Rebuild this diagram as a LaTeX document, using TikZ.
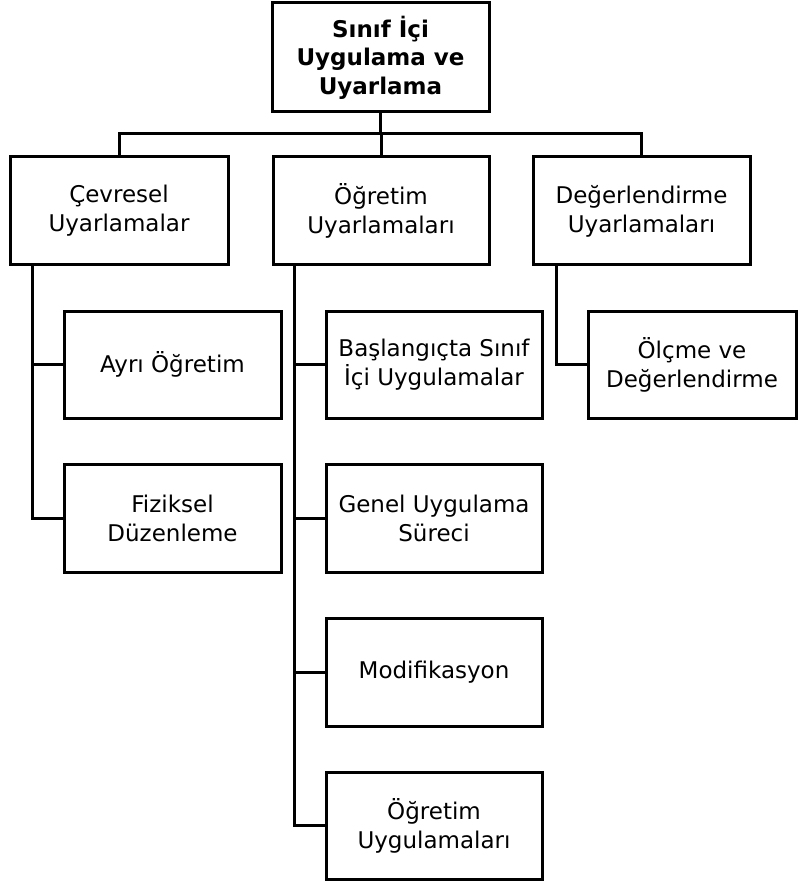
\documentclass[tikz,border=0pt]{standalone}
\usepackage{fontspec}
\setmainfont{DejaVu Sans}
\begin{document}
\begin{tikzpicture}[x=1pt,y=-1pt,
  box/.style={draw, line width=3pt, fill=white, align=center, inner sep=0pt,
    font=\fontsize{23}{29}\selectfont},
  wire/.style={line width=3pt, line cap=rect}]
\useasboundingbox (0,0) rectangle (798,882);

% root and first level
\node[box, minimum width=217pt, minimum height=109pt, font=\fontsize{23}{28.5}\selectfont\bfseries]
  (root) at (380.5,57.5) {Sınıf İçi\\Uygulama ve\\Uyarlama};
\node[box, minimum width=218pt, minimum height=108pt] (cev) at (119,211) {Çevresel\\Uyarlamalar};
\node[box, minimum width=216pt, minimum height=108pt] (ogr) at (381,211) {Öğretim\\Uyarlamaları};
\node[box, minimum width=217pt, minimum height=108pt] (deg) at (641.5,211) {Değerlendirme\\Uyarlamaları};

% second level
\node[box, minimum width=217pt, minimum height=107pt] (ayri) at (172.5,364.5) {Ayrı Öğretim};
\node[box, minimum width=217pt, minimum height=108pt] (fiz) at (172.5,518) {Fiziksel\\Düzenleme};
\node[box, minimum width=216pt, minimum height=107pt] (bas) at (434,364.5) {Başlangıçta Sınıf\\İçi Uygulamalar};
\node[box, minimum width=216pt, minimum height=108pt] (gen) at (434,518) {Genel Uygulama\\Süreci};
\node[box, minimum width=216pt, minimum height=108pt] (mod) at (434,672) {Modifikasyon};
\node[box, minimum width=216pt, minimum height=107pt] (ogu) at (434,825.5) {Öğretim\\Uygulamaları};
\node[box, minimum width=208pt, minimum height=107pt] (olc) at (692,364.5) {Ölçme ve\\Değerlendirme};

% trunk positions
\coordinate (bus) at (0,134);
\coordinate (ta) at (32,0);
\coordinate (tb) at (294,0);
\coordinate (tc) at (556,0);

% root to first level
\draw[wire] (root.south) -- (root.south |- bus);
\draw[wire] (cev.north |- bus) -- (deg.north |- bus);
\draw[wire] (cev.north |- bus) -- (cev.north);
\draw[wire] (ogr.north |- bus) -- (ogr.north);
\draw[wire] (deg.north |- bus) -- (deg.north);

% first level to second level
\draw[wire] (ta |- cev.south) |- (fiz.west);
\draw[wire] (ta |- ayri.west) -- (ayri.west);
\draw[wire] (tb |- ogr.south) |- (ogu.west);
\draw[wire] (tb |- bas.west) -- (bas.west);
\draw[wire] (tb |- gen.west) -- (gen.west);
\draw[wire] (tb |- mod.west) -- (mod.west);
\draw[wire] (tc |- deg.south) |- (olc.west);
\end{tikzpicture}
\end{document}
